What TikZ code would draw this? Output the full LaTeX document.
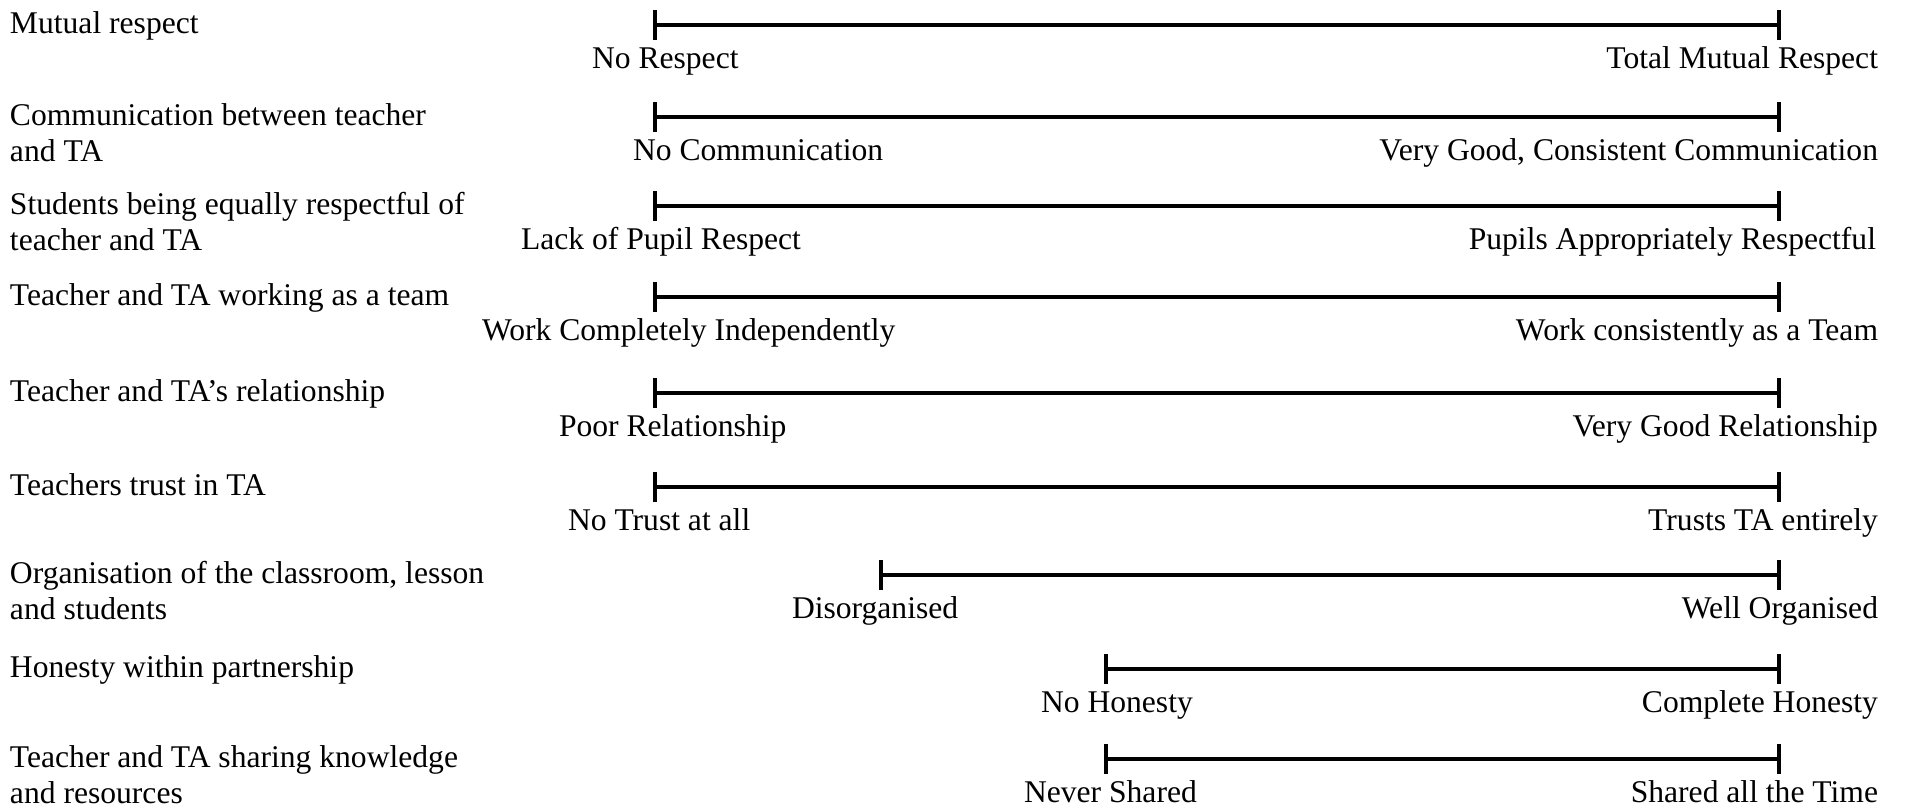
\documentclass[tikz,border=0pt]{standalone}
\usepackage{fontspec}
\setmainfont{Liberation Serif}
\usetikzlibrary{arrows.meta,positioning}

\begin{document}
\begin{tikzpicture}[
    x=0.5pt, y=-0.5pt,
    every node/.style={inner sep=0pt, outer sep=0pt, font=\fontsize{15.8}{18}\selectfont},
    item/.style={anchor=base west, align=left},
    lowend/.style={anchor=base west},
    highend/.style={anchor=base east},
    scalebar/.style={{Bar[width=15pt]}-{Bar[width=15pt]}, line width=2.1pt}
]
    \useasboundingbox (0,0) rectangle (1906,810);

    % row 1
    \node[item] (q1) at (10,33) {Mutual respect};
    \coordinate (lo1) at (653,25); \coordinate (hi1) at (1781,25);
    \draw[scalebar] (lo1) -- (hi1);
    \node[lowend] (min1) at (592,68) {No Respect};
    \node[highend] (max1) at (1878,68) {Total Mutual Respect};

    % row 2 (two lines: base is the last line)
    \node[item] (q2) at (10,161) {Communication between teacher\\and TA};
    \coordinate (lo2) at (653,117); \coordinate (hi2) at (1781,117);
    \draw[scalebar] (lo2) -- (hi2);
    \node[lowend] (min2) at (633,160) {No Communication};
    \node[highend] (max2) at (1878,160) {Very Good, Consistent Communication};

    % row 3
    \node[item] (q3) at (10,250) {Students being equally respectful of\\teacher and TA};
    \coordinate (lo3) at (653,206); \coordinate (hi3) at (1781,206);
    \draw[scalebar] (lo3) -- (hi3);
    \node[lowend] (min3) at (521,249) {Lack of Pupil Respect};
    \node[highend] (max3) at (1876,249) {Pupils Appropriately Respectful};

    % row 4
    \node[item] (q4) at (10,305) {Teacher and TA working as a team};
    \coordinate (lo4) at (653,297); \coordinate (hi4) at (1781,297);
    \draw[scalebar] (lo4) -- (hi4);
    \node[lowend] (min4) at (482,340) {Work Completely Independently};
    \node[highend] (max4) at (1878,340) {Work consistently as a Team};

    % row 5
    \node[item] (q5) at (10,401) {Teacher and TA’s relationship};
    \coordinate (lo5) at (653,393); \coordinate (hi5) at (1781,393);
    \draw[scalebar] (lo5) -- (hi5);
    \node[lowend] (min5) at (559,436) {Poor Relationship};
    \node[highend] (max5) at (1878,436) {Very Good Relationship};

    % row 6
    \node[item] (q6) at (10,495) {Teachers trust in TA};
    \coordinate (lo6) at (653,487); \coordinate (hi6) at (1781,487);
    \draw[scalebar] (lo6) -- (hi6);
    \node[lowend] (min6) at (568,530) {No Trust at all};
    \node[highend] (max6) at (1878,530) {Trusts TA entirely};

    % row 7
    \node[item] (q7) at (10,619) {Organisation of the classroom, lesson\\and students};
    \coordinate (lo7) at (879,575); \coordinate (hi7) at (1781,575);
    \draw[scalebar] (lo7) -- (hi7);
    \node[lowend] (min7) at (792,618) {Disorganised};
    \node[highend] (max7) at (1878,618) {Well Organised};

    % row 8
    \node[item] (q8) at (10,677) {Honesty within partnership};
    \coordinate (lo8) at (1104,669); \coordinate (hi8) at (1781,669);
    \draw[scalebar] (lo8) -- (hi8);
    \node[lowend] (min8) at (1041,712) {No Honesty};
    \node[highend] (max8) at (1878,712) {Complete Honesty};

    % row 9
    \node[item] (q9) at (10,803) {Teacher and TA sharing knowledge\\and resources};
    \coordinate (lo9) at (1104,759); \coordinate (hi9) at (1781,759);
    \draw[scalebar] (lo9) -- (hi9);
    \node[lowend] (min9) at (1024,802) {Never Shared};
    \node[highend] (max9) at (1878,802) {Shared all the Time};
\end{tikzpicture}
\end{document}
